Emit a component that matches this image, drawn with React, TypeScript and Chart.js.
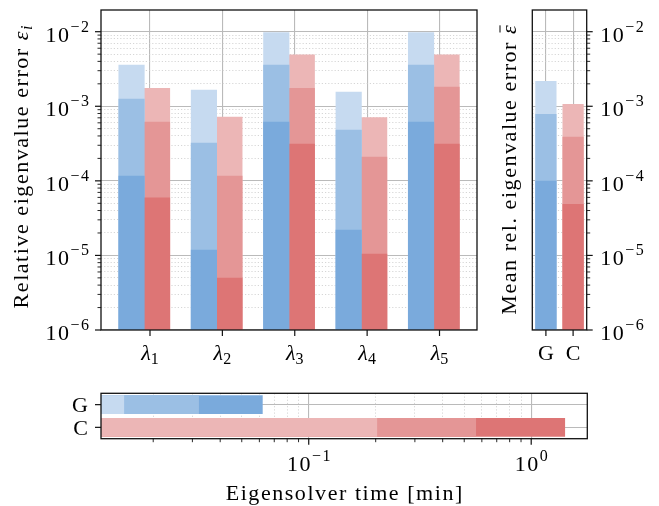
import React, { useEffect, useRef } from 'react';
import { Chart, registerables } from 'chart.js';

Chart.register(...registerables);

// ---------- data ----------
const eigenvalueSymbol = 'λ';
const eigenvalueIndices = ['1', '2', '3', '4', '5'];

// relative eigenvalue error per eigenvalue (light = coarse, mid, dark = fine)
const gLight = [3.57e-3, 1.65e-3, 9.7e-3, 1.55e-3, 9.7e-3];
const gMid = [1.25e-3, 3.22e-4, 3.57e-3, 4.81e-4, 3.57e-3];
const gDark = [1.16e-4, 1.18e-5, 6.15e-4, 2.19e-5, 6.15e-4];
const cLight = [1.74e-3, 7.18e-4, 4.88e-3, 7.03e-4, 4.88e-3];
const cMid = [6.15e-4, 1.16e-4, 1.74e-3, 2.09e-4, 1.81e-3];
const cDark = [5.9e-5, 4.97e-6, 3.12e-4, 1.04e-5, 3.12e-4];

// mean relative eigenvalue error [G, C]
const meanCategories = ['G', 'C'];
const meanLight = [2.18e-3, 1.07e-3];
const meanMid = [7.87e-4, 3.91e-4];
const meanDark = [1.0e-4, 4.9e-5];

// eigensolver time in minutes [G, C]
const timeCategories = ['G', 'C'];
const timeLight = [0.0148, 0.203];
const timeMid = [0.0321, 0.565];
const timeDark = [0.0621, 1.42];

// axis ranges
const errorMin = 1e-6;
const errorMax = 0.01954;
const timeMin = 0.01165;
const timeMax = 1.787;

// ---------- styles ----------
const BLUE = ['#c6daf0', '#9bbfe4', '#7aaadc'];
const RED = ['#ecb6b6', '#e49696', '#dd7575'];
const SERIF = '"Liberation Serif", "DejaVu Serif", serif';
const FS = 22;
const FS_SMALL = 16;
const LS = 1.55;
const TICK_LS = 1.5;
const GRID_MAJOR = '#bababa';
const GRID_MINOR = '#cccccc';
const G_OFFSET = -0.255;
const C_OFFSET = 0.097;

type Piece = { text: string; italic?: boolean; small?: boolean; dy?: number; overline?: boolean };

function fontOf(p: Piece) {
  return `${p.italic ? 'italic ' : ''}${p.small ? FS_SMALL : FS}px ${SERIF}`;
}

function drawPieces(ctx: any, pieces: Piece[], x: number, y: number, align: string, spacing = 0) {
  ctx.save();
  ctx.letterSpacing = `${spacing}px`;
  const widths = pieces.map((p) => {
    ctx.font = fontOf(p);
    return ctx.measureText(p.text).width;
  });
  const total = widths.reduce((a, b) => a + b, 0) - spacing;
  let cx = align === 'left' ? x : align === 'right' ? x - total : x - total / 2;
  ctx.textAlign = 'left';
  ctx.textBaseline = 'alphabetic';
  ctx.fillStyle = '#000';
  pieces.forEach((p, i) => {
    ctx.font = fontOf(p);
    ctx.fillText(p.text, cx, y + (p.dy || 0));
    if (p.overline) {
      ctx.beginPath();
      ctx.strokeStyle = '#000';
      ctx.lineWidth = 1;
      ctx.moveTo(cx + 1.5, y - 16);
      ctx.lineTo(cx + widths[i] - spacing, y - 16);
      ctx.stroke();
    }
    cx += widths[i];
  });
  ctx.restore();
}

function powPieces(v: number): Piece[] {
  const e = Math.round(Math.log10(v));
  const s = e < 0 ? '\u2212' + String(-e) : String(e);
  return [{ text: '10' }, { text: s, small: true, dy: -10 }];
}

function logTicks(min: number, max: number) {
  const out: any[] = [];
  for (let e = Math.floor(Math.log10(min)); e <= Math.ceil(Math.log10(max)); e++) {
    for (let m = 1; m <= 9; m++) {
      const v = m * Math.pow(10, e);
      if (v >= min * 0.9999 && v <= max * 1.0001) out.push({ value: v, major: m === 1 });
    }
  }
  return out;
}

function drawFrame(ctx: any, a: any) {
  ctx.save();
  ctx.strokeStyle = '#111';
  ctx.lineWidth = 1.3;
  ctx.strokeRect(a.left, a.top, a.right - a.left, a.bottom - a.top);
  ctx.restore();
}

function tickMark(ctx: any, x: number, y: number, dx: number, dy: number, major: boolean) {
  ctx.save();
  ctx.strokeStyle = '#111';
  ctx.lineWidth = major ? 1.2 : 0.9;
  ctx.beginPath();
  ctx.moveTo(x, y);
  ctx.lineTo(x + dx, y + dy);
  ctx.stroke();
  ctx.restore();
}

const logGrid = {
  offset: false,
  color: (c: any) => (c.tick && c.tick.major ? GRID_MAJOR : GRID_MINOR),
  lineWidth: (c: any) => (c.tick && c.tick.major ? 1.1 : 0.8),
  drawTicks: false,
};
const logBorder = {
  display: false,
  dash: (c: any) => (c.tick && c.tick.major ? [] : [1.2, 2]),
};

// ---------- main chart ----------
function mainConfig(): any {
  const pts = (vals: number[], off: number) => vals.map((v, i) => ({ x: i + 1 + off, y: v }));
  const ds = (label: string, data: any[], color: string) => ({
    label,
    data,
    backgroundColor: color,
    borderWidth: 0,
    grouped: false,
    barThickness: 25.5,
  });
  return {
    type: 'bar',
    data: {
      datasets: [
        ds('G fine', pts(gDark, G_OFFSET), BLUE[2]),
        ds('C fine', pts(cDark, C_OFFSET), RED[2]),
        ds('G medium', pts(gMid, G_OFFSET), BLUE[1]),
        ds('C medium', pts(cMid, C_OFFSET), RED[1]),
        ds('G coarse', pts(gLight, G_OFFSET), BLUE[0]),
        ds('C coarse', pts(cLight, C_OFFSET), RED[0]),
      ],
    },
    options: {
      animation: false,
      responsive: false,
      devicePixelRatio: 1,
      layout: { padding: { left: 0, top: 10, right: 3, bottom: 0 } },
      plugins: { legend: { display: false }, tooltip: { enabled: false } },
      scales: {
        x: {
          type: 'linear',
          offset: false,
          min: 0.323,
          max: 5.518,
          afterBuildTicks: (s: any) => {
            s.ticks = eigenvalueIndices.map((_, i) => ({ value: i + 1 }));
          },
          ticks: { display: false },
          grid: { offset: false, color: GRID_MAJOR, lineWidth: 1.1, drawTicks: false },
          border: { display: false },
          afterFit: (s: any) => {
            s.height = 50;
          },
        },
        y: {
          type: 'logarithmic',
          min: errorMin,
          max: errorMax,
          stacked: false,
          afterBuildTicks: (s: any) => {
            s.ticks = logTicks(errorMin, errorMax);
          },
          ticks: { display: false },
          grid: logGrid,
          border: logBorder,
          afterFit: (s: any) => {
            s.width = 101;
          },
        },
      },
    },
    plugins: [
      {
        id: 'mainDecor',
        afterDraw(chart: any) {
          const { ctx, chartArea: a } = chart;
          const xs = chart.scales.x;
          const ys = chart.scales.y;
          drawFrame(ctx, a);
          ys.ticks.forEach((t: any) => {
            const y = ys.getPixelForValue(t.value);
            tickMark(ctx, a.left, y, t.major ? -6 : -3.5, 0, t.major);
            if (t.major) drawPieces(ctx, powPieces(t.value), 89, y + 10, 'right', TICK_LS);
          });
          xs.ticks.forEach((t: any, i: number) => {
            const x = xs.getPixelForValue(t.value);
            tickMark(ctx, x, a.bottom, 0, 6, true);
            drawPieces(
              ctx,
              [
                { text: eigenvalueSymbol, italic: true },
                { text: eigenvalueIndices[i], small: true, dy: 4.5 },
              ],
              x,
              359.5,
              'center'
            );
          });
          ctx.save();
          ctx.translate(28, 167);
          ctx.rotate(-Math.PI / 2);
          drawPieces(
            ctx,
            [
              { text: 'Relative eigenvalue error ' },
              { text: 'ε', italic: true },
              { text: 'i', italic: true, small: true, dy: 4 },
            ],
            0,
            0,
            'center',
            LS
          );
          ctx.restore();
        },
      },
    ],
  };
}

// ---------- mean chart ----------
function meanConfig(): any {
  const ds = (label: string, data: number[], shade: number) => ({
    label,
    data,
    backgroundColor: [BLUE[shade], RED[shade]],
    borderWidth: 0,
    grouped: false,
    categoryPercentage: 1,
    barPercentage: 0.78,
  });
  return {
    type: 'bar',
    data: {
      labels: meanCategories,
      datasets: [ds('fine', meanDark, 2), ds('medium', meanMid, 1), ds('coarse', meanLight, 0)],
    },
    options: {
      animation: false,
      responsive: false,
      devicePixelRatio: 1,
      layout: { padding: { left: 42.3, top: 10, right: 0, bottom: 0 } },
      plugins: { legend: { display: false }, tooltip: { enabled: false } },
      scales: {
        x: {
          type: 'category',
          offset: true,
          ticks: { display: false },
          grid: { offset: false, color: GRID_MAJOR, lineWidth: 1.1, drawTicks: false },
          border: { display: false },
          afterFit: (s: any) => {
            s.height = 50;
          },
        },
        y: {
          type: 'logarithmic',
          position: 'right',
          min: errorMin,
          max: errorMax,
          stacked: false,
          afterBuildTicks: (s: any) => {
            s.ticks = logTicks(errorMin, errorMax);
          },
          ticks: { display: false },
          grid: logGrid,
          border: logBorder,
          afterFit: (s: any) => {
            s.width = 72.3;
          },
        },
      },
    },
    plugins: [
      {
        id: 'meanDecor',
        afterDraw(chart: any) {
          const { ctx, chartArea: a } = chart;
          const xs = chart.scales.x;
          const ys = chart.scales.y;
          drawFrame(ctx, a);
          ys.ticks.forEach((t: any) => {
            const y = ys.getPixelForValue(t.value);
            tickMark(ctx, a.right, y, t.major ? 6 : 3.5, 0, t.major);
            if (t.major) drawPieces(ctx, powPieces(t.value), a.right + 13.5, y + 10, 'left', TICK_LS);
          });
          meanCategories.forEach((lab, i) => {
            const x = xs.getPixelForValue(i);
            tickMark(ctx, x, a.bottom, 0, 6, true);
            drawPieces(ctx, [{ text: lab }], x, 360, 'center');
          });
          ctx.save();
          ctx.translate(26, 170);
          ctx.rotate(-Math.PI / 2);
          drawPieces(
            ctx,
            [{ text: 'Mean rel. eigenvalue error ' }, { text: 'ε', italic: true, overline: true }],
            0,
            0,
            'center',
            LS
          );
          ctx.restore();
        },
      },
    ],
  };
}

// ---------- time chart ----------
function timeConfig(): any {
  const ds = (label: string, data: number[], shade: number) => ({
    label,
    data,
    backgroundColor: [BLUE[shade], RED[shade]],
    borderWidth: 0,
    grouped: false,
    categoryPercentage: 1,
    barPercentage: 0.82,
  });
  return {
    type: 'bar',
    data: {
      labels: timeCategories,
      // shortest bar first so it is drawn on top
      datasets: [ds('coarse', timeLight, 0), ds('medium', timeMid, 1), ds('fine', timeDark, 2)],
    },
    options: {
      indexAxis: 'y',
      animation: false,
      responsive: false,
      devicePixelRatio: 1,
      layout: { padding: { left: 0, top: 13.3, right: 71.7, bottom: 0 } },
      plugins: { legend: { display: false }, tooltip: { enabled: false } },
      scales: {
        y: {
          type: 'category',
          offset: true,
          ticks: { display: false },
          grid: { offset: false, color: GRID_MAJOR, lineWidth: 1.1, drawTicks: false },
          border: { display: false },
          afterFit: (s: any) => {
            s.width = 101;
          },
        },
        x: {
          type: 'logarithmic',
          min: timeMin,
          max: timeMax,
          stacked: false,
          afterBuildTicks: (s: any) => {
            s.ticks = logTicks(timeMin, timeMax);
          },
          ticks: { display: false },
          grid: logGrid,
          border: logBorder,
          afterFit: (s: any) => {
            s.height = 67.3;
          },
        },
      },
    },
    plugins: [
      {
        id: 'timeDecor',
        afterDraw(chart: any) {
          const { ctx, chartArea: a } = chart;
          const xs = chart.scales.x;
          const ys = chart.scales.y;
          drawFrame(ctx, a);
          xs.ticks.forEach((t: any) => {
            const x = xs.getPixelForValue(t.value);
            tickMark(ctx, x, a.bottom, 0, t.major ? 6 : 3.5, t.major);
            if (t.major) drawPieces(ctx, powPieces(t.value), x, 91, 'center', TICK_LS);
          });
          timeCategories.forEach((lab, i) => {
            const y = ys.getPixelForValue(i);
            tickMark(ctx, a.left, y, -6, 0, true);
            drawPieces(ctx, [{ text: lab }], 88, y + 7.5, 'right');
          });
          drawPieces(ctx, [{ text: 'Eigensolver time [min]' }], 344, 120, 'center', LS);
        },
      },
    ],
  };
}

function ChartCanvas({ config, left, top, width, height }: any) {
  const ref = useRef<HTMLCanvasElement | null>(null);
  useEffect(() => {
    if (!ref.current) return;
    const chart = new Chart(ref.current, config());
    return () => chart.destroy();
  }, []);
  return (
    <canvas
      ref={ref}
      width={width}
      height={height}
      style={{ position: 'absolute', left, top, width, height }}
    />
  );
}

export default function App() {
  return (
    <div
      style={{
        position: 'fixed',
        left: 0,
        top: 0,
        width: 659,
        height: 506,
        background: '#fff',
        overflow: 'hidden',
      }}
    >
      <ChartCanvas config={mainConfig} left={0} top={0} width={480} height={380} />
      <ChartCanvas config={meanConfig} left={490} top={0} width={169} height={380} />
      <ChartCanvas config={timeConfig} left={0} top={380} width={659} height={126} />
    </div>
  );
}
